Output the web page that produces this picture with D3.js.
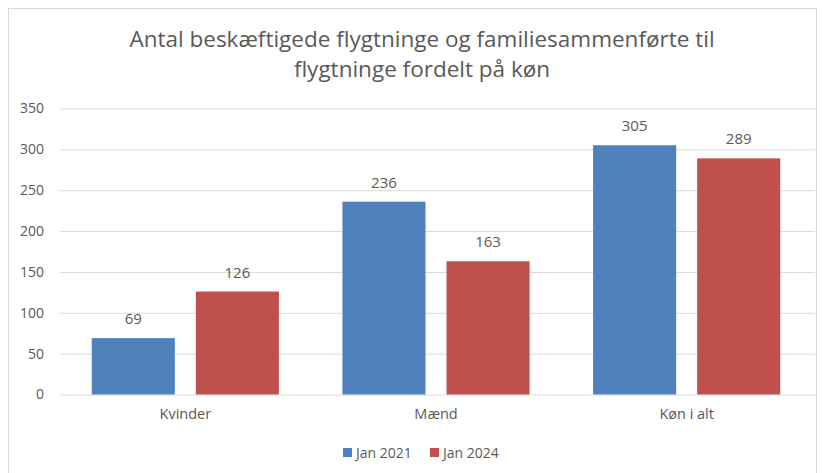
<!DOCTYPE html>
<html>
<head>
<meta charset="utf-8">
<script src="https://cdn.jsdelivr.net/npm/d3@7"></script>
<style>
  body { margin: 0; background: #fff; }
  text { font-family: "Open Sans", "Liberation Sans", sans-serif; fill: #595959; }
</style>
</head>
<body>
<div id="chart"></div>
<script>
// chart data
const categories = ["Kvinder", "Mænd", "Køn i alt"];
const seriesNames = ["Jan 2021", "Jan 2024"];
const jan2021 = [69, 236, 305];
const jan2024 = [126, 163, 289];
const yTicks = [0, 50, 100, 150, 200, 250, 300, 350];
const titleLines = ["Antal beskæftigede flygtninge og familiesammenførte til", "flygtninge fordelt på køn"];

const width = 822;
const height = 473;
const margin = { top: 108.5, left: 60, right: 10, bottom: 78.5 };
const colors = ["#4F81BD", "#C0504D"];

const svg = d3.select("#chart")
  .append("svg")
  .attr("width", width)
  .attr("height", height);

// outer chart border
svg.append("rect")
  .attr("x", 8.5)
  .attr("y", 8.5)
  .attr("width", 808)
  .attr("height", 480)
  .attr("fill", "none")
  .attr("stroke", "#d9d9d9");

const xScale = d3.scaleBand()
  .domain(categories)
  .range([margin.left, width - margin.right])
  .paddingInner(0)
  .paddingOuter(0);

const xInner = d3.scaleBand()
  .domain(seriesNames)
  .range([0, xScale.bandwidth()])
  .paddingInner(0.202)
  .paddingOuter(0.305);

const yScale = d3.scaleLinear()
  .domain([0, 350])
  .range([height - margin.bottom, margin.top]);

// gridlines and y labels
const yAxis = svg.append("g")
  .attr("transform", `translate(${margin.left},0)`)
  .call(d3.axisLeft(yScale).tickValues(yTicks).tickSize(-(width - margin.left - 7)).tickPadding(16));

yAxis.select(".domain").remove();
yAxis.selectAll(".tick line").attr("stroke", "#d9d9d9");
yAxis.selectAll(".tick text")
  .attr("font-size", 14)
  .style("font-family", "'Open Sans', sans-serif")
  .attr("fill", "#595959");

// bars
const series = [jan2021, jan2024];
series.forEach(function(values, s) {
  const g = svg.append("g");
  g.selectAll("rect")
    .data(values)
    .enter()
    .append("rect")
    .attr("x", function(d, i) {
      return xScale(categories[i]) + xInner(seriesNames[s]);
    })
    .attr("y", function(d) {
      return yScale(d);
    })
    .attr("width", xInner.bandwidth())
    .attr("height", function(d) {
      return yScale(0) - yScale(d);
    })
    .attr("fill", colors[s]);

  g.selectAll("text")
    .data(values)
    .enter()
    .append("text")
    .attr("x", function(d, i) {
      return xScale(categories[i]) + xInner(seriesNames[s]) + xInner.bandwidth() / 2;
    })
    .attr("y", function(d) {
      return yScale(d) - 14;
    })
    .attr("text-anchor", "middle")
    .attr("font-size", 15)
    .text(function(d) { return d; });
});

// category labels
svg.selectAll(".catLabel")
  .data(categories)
  .enter()
  .append("text")
  .attr("class", "catLabel")
  .attr("x", function(d) { return xScale(d) + xScale.bandwidth() / 2; })
  .attr("y", height - margin.bottom + 24)
  .attr("text-anchor", "middle")
  .attr("font-size", 14.5)
  .text(function(d) { return d; });

// title
svg.selectAll(".title")
  .data(titleLines)
  .enter()
  .append("text")
  .attr("class", "title")
  .attr("x", 422)
  .attr("y", function(d, i) { return 47 + i * 30; })
  .attr("text-anchor", "middle")
  .attr("font-size", 22.5)
  .text(function(d) { return d; });

// legend
const legendX = [343, 430];
const legend = svg.selectAll(".legend")
  .data(seriesNames)
  .enter()
  .append("g")
  .attr("class", "legend")
  .attr("transform", function(d, i) { return `translate(${legendX[i]},448)`; });

legend.append("rect")
  .attr("width", 9)
  .attr("height", 9)
  .attr("fill", function(d, i) { return colors[i]; });

legend.append("text")
  .attr("x", 13)
  .attr("y", 9.5)
  .attr("font-size", 14)
  .text(function(d) { return d; });
</script>
</body>
</html>
